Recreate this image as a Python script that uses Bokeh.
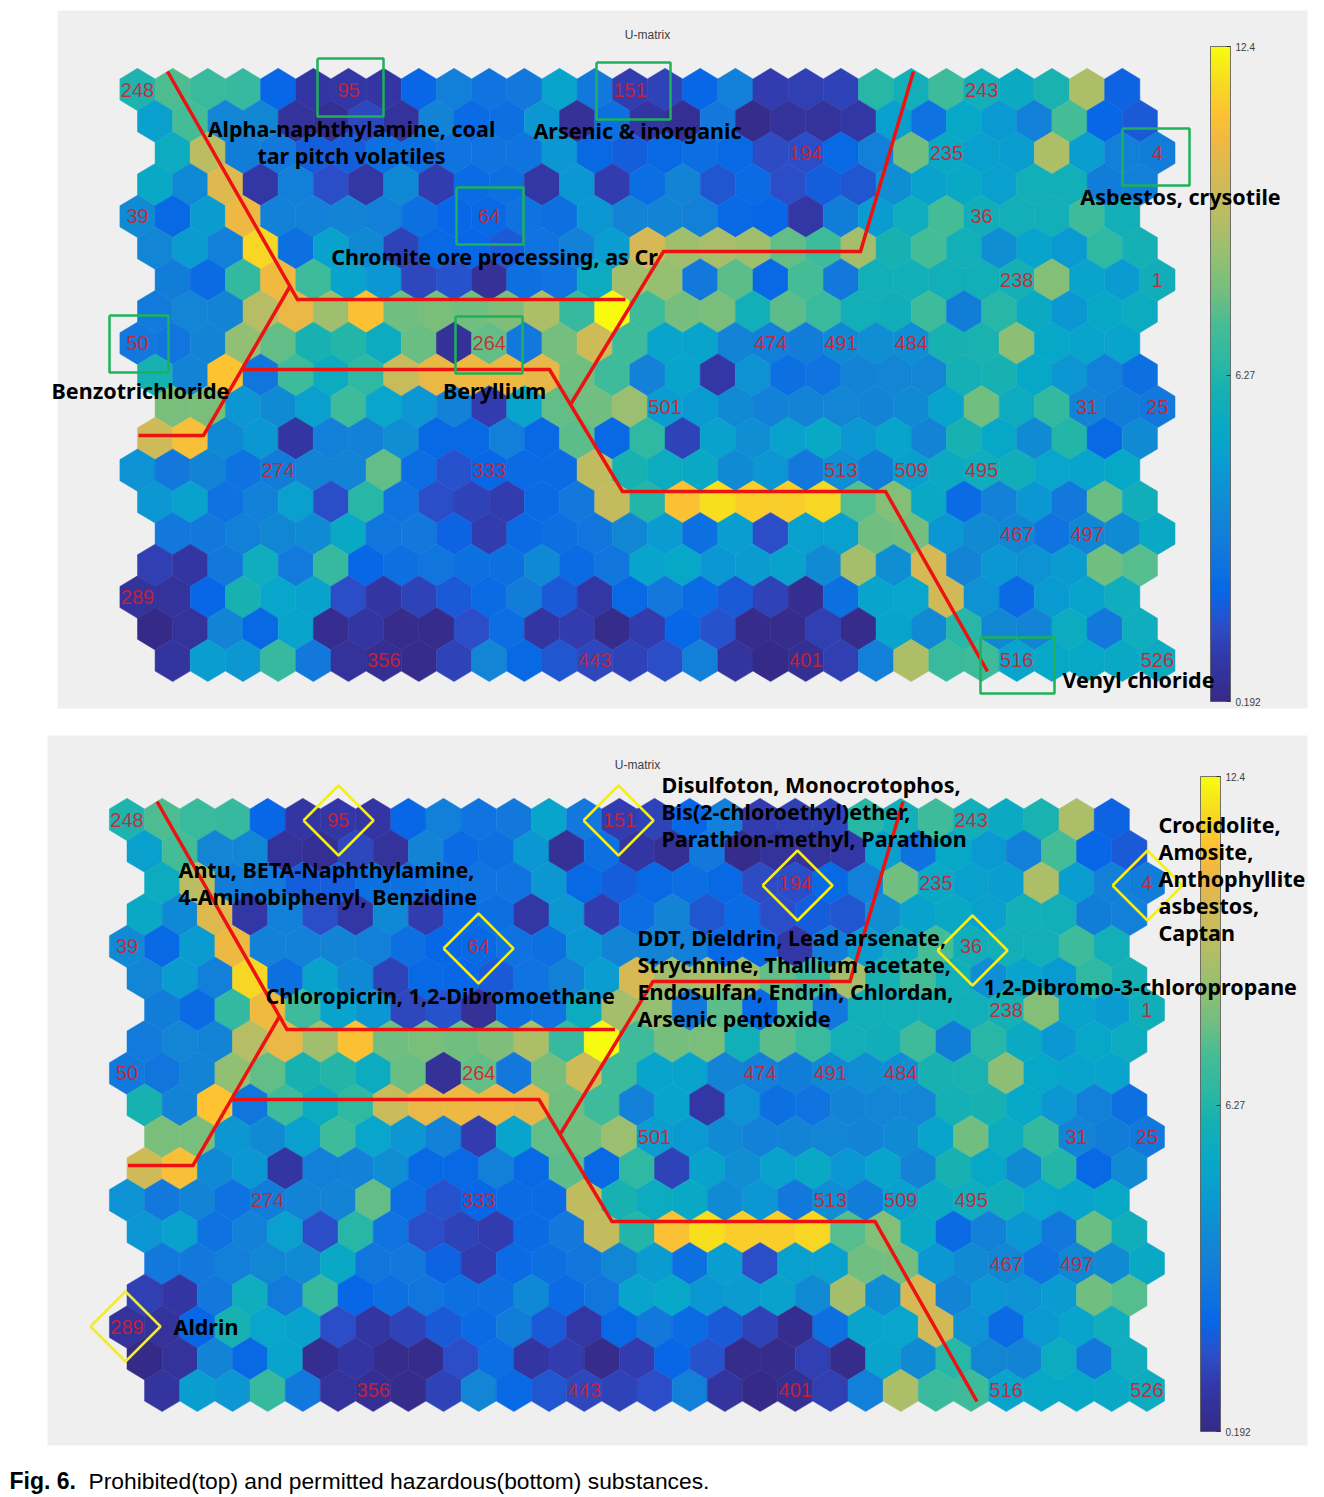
from bokeh.plotting import figure
from bokeh.layouts import column
from bokeh.models import Range1d, LinearColorMapper, ColorBar, FixedTicker, ColumnDataSource
from bokeh.core.properties import value
from bokeh.embed import file_html
from bokeh.resources import INLINE

# U-matrix values, one list per hexagon row
row_00 = [6.2,7.3,6.9,6.8,2.2,0.9,1.0,0.9,2.2,3.3,2.8,3.0,5.0,3.0,1.1,1.3,2.2,3.3,1.1,1.2,1.3,6.4,5.8,7.0,5.8,5.4,6.1,9.0,2.1]
row_01 = [4.8,7.2,3.6,3.7,0.7,0.5,1.4,0.7,3.5,2.4,2.6,4.4,0.6,2.6,0.9,0.5,3.0,0.3,0.7,0.7,1.0,4.8,2.7,5.2,4.5,3.3,7.2,2.2,1.9]
row_02 = [5.5,9.3,3.2,3.0,2.0,2.0,2.6,2.6,2.8,2.8,2.8,4.3,2.3,2.0,2.3,2.5,2.3,1.5,1.6,2.3,3.3,7.8,5.3,4.8,4.7,9.0,4.7,3.3,3.2]
row_03 = [5.3,3.8,10.2,1.0,3.3,1.6,1.0,3.8,1.1,2.4,2.6,1.0,4.3,1.1,2.5,3.5,1.8,2.4,1.6,2.0,1.8,4.0,4.9,5.3,4.8,5.8,5.8,3.2,3.3]
row_04 = [3.9,2.3,4.6,10.6,3.4,3.4,3.5,3.3,2.6,2.2,2.3,2.7,2.6,4.4,3.5,3.5,3.3,2.3,2.2,1.0,3.2,4.6,5.6,7.2,5.7,5.8,5.8,7.0,5.8]
row_05 = [3.6,4.6,3.3,11.6,2.6,4.9,3.8,1.3,2.3,2.2,1.9,2.8,3.4,4.7,10.0,8.7,8.9,8.7,7.6,7.0,8.8,6.0,7.2,5.8,4.0,5.0,4.5,6.6,5.9]
row_06 = [3.2,2.4,6.7,10.7,7.0,5.0,4.4,1.4,1.7,0.6,2.6,2.8,5.5,8.8,8.5,3.0,7.5,2.3,7.2,3.0,5.8,5.8,5.8,5.8,5.9,8.2,5.0,4.6,5.7]
row_07 = [3.1,3.6,3.5,9.2,10.5,8.7,11.1,7.8,8.0,7.8,8.1,9.0,6.8,12.4,7.0,7.9,8.0,5.8,7.5,6.9,5.8,5.7,7.0,3.2,6.4,5.4,4.4,5.2,5.5]
row_08 = [3.0,2.9,3.5,8.4,7.6,6.0,6.3,5.5,7.7,0.6,7.6,3.0,7.9,9.8,7.0,5.0,5.0,3.5,3.3,3.2,3.8,4.0,4.0,6.0,6.1,8.3,5.2,5.0,5.0]
row_09 = [6.0,3.5,11.2,2.9,7.0,5.5,6.6,9.6,10.5,10.6,10.6,10.4,7.8,7.0,3.4,5.0,1.0,4.2,2.6,2.8,3.5,3.6,3.6,5.9,6.0,5.2,4.3,3.3,2.6]
row_10 = [8.0,8.0,4.3,3.9,4.8,7.0,5.1,4.3,3.4,1.1,5.0,7.6,7.8,8.6,4.7,4.5,3.9,3.4,3.5,3.6,3.5,3.9,5.0,7.8,5.5,6.7,3.5,3.2,3.0]
row_11 = [9.8,11.0,3.8,4.4,0.9,3.3,3.4,4.0,2.3,2.3,3.3,2.3,7.5,2.3,6.6,1.3,4.9,4.0,4.9,5.3,4.4,5.0,3.5,6.0,5.2,3.9,6.3,2.3,3.9]
row_12 = [4.2,3.0,3.5,2.7,3.2,3.5,3.5,7.6,2.5,1.7,2.2,2.4,2.4,9.4,6.0,5.5,5.3,3.9,4.3,3.0,4.0,3.2,4.8,5.4,5.6,5.7,5.1,5.0,5.2]
row_13 = [4.3,4.9,2.7,3.4,4.8,1.6,6.4,2.8,1.6,1.3,1.1,2.4,3.0,9.5,6.3,11.1,11.8,11.4,11.4,11.6,7.4,8.2,5.3,2.4,3.4,4.4,3.0,7.7,5.7]
row_14 = [3.0,3.0,3.3,3.7,3.9,5.3,2.9,3.0,2.1,1.1,2.4,2.6,2.9,3.7,4.6,2.6,4.7,1.6,4.8,4.8,7.8,7.9,4.4,3.9,3.7,2.8,3.7,3.9,5.3]
row_15 = [1.2,0.9,3.0,5.6,3.1,6.8,2.2,2.6,2.9,2.6,2.6,3.8,2.4,2.9,5.0,5.2,4.4,4.6,4.9,3.9,8.8,4.0,10.0,3.5,4.4,4.2,4.6,7.8,7.4]
row_16 = [0.7,0.7,2.2,6.0,5.1,4.9,1.6,0.9,1.3,1.9,2.4,3.2,1.9,1.0,2.3,3.0,2.4,1.9,1.3,0.4,2.6,5.0,5.1,9.9,4.2,2.4,4.5,5.0,5.6]
row_17 = [0.2,0.7,3.5,2.3,5.0,0.4,0.9,0.3,0.3,1.6,2.5,0.9,1.1,0.3,1.1,2.2,1.7,0.3,0.3,1.2,0.3,5.0,3.9,6.4,3.7,3.5,5.5,3.0,5.6]
row_18 = [0.8,4.7,4.3,6.8,3.0,0.7,0.5,0.3,1.3,3.6,2.3,1.8,1.4,1.3,1.6,3.3,0.8,0.2,0.5,1.2,3.3,9.0,6.9,7.0,5.0,5.2,5.2,5.3,5.5]
rows = [row_00,row_01,row_02,row_03,row_04,row_05,row_06,row_07,row_08,row_09,
        row_10,row_11,row_12,row_13,row_14,row_15,row_16,row_17,row_18]

# Node labels (number, column, row)
node_names = ["248","95","151","243","194","235","4","39","64","36","238","1","50","264","474","491","484",
              "501","31","25","274","333","513","509","495","467","497","289","356","443","401","516","526"]
node_cols = [0,6,14,24,19,23,29,0,10,24,25,29,0,10,18,20,22,15,27,29,4,10,20,22,24,25,27,0,7,13,19,25,29]
node_rows = [0,0,0,0,2,2,2,4,4,4,6,6,8,8,8,8,8,10,10,10,12,12,12,12,12,14,14,16,18,18,18,18,18]

top_labels = ["Alpha-naphthylamine, coal","tar pitch volatiles","Arsenic & inorganic","Chromite ore processing, as Cr",
              "Asbestos, crysotile","Benzotrichloride","Beryllium","Venyl chloride"]
top_label_x = [351,351,637,494,1180,140,494,1138]
top_label_y = [128,155,130,256,196,390,390,679]
bot_labels = ["Disulfoton, Monocrotophos,","Bis(2-chloroethyl)ether,","Parathion-methyl, Parathion",
              "Antu, BETA-Naphthylamine,","4-Aminobiphenyl, Benzidine",
              "Crocidolite,","Amosite,","Anthophyllite","asbestos,","Captan",
              "DDT, Dieldrin, Lead arsenate,","Strychnine, Thallium acetate,","Endosulfan, Endrin, Chlordan,","Arsenic pentoxide",
              "Chloropicrin, 1,2-Dibromoethane","1,2-Dibromo-3-chloropropane","Aldrin"]
bot_label_x = [661,661,661,178,178,1158,1158,1158,1158,1158,637,637,637,637,265,983,173]
bot_label_y = [784,811,838,869,896,824,851,878,905,932,937,964,991,1018,995,986,1326]

green_boxes = [(317,383,58,116),(596,670,62,119),(456,523,187,244),(1122,1189,128,185),
               (109,168,315,372),(455,522,316,373),(980,1054,637,693)]
yellow_diamonds = [(338,820),(618,820),(797,885),(478,948),(972,950),(1147,885),(125,1326)]

red_lines = [
    ([167,297,625],[71,299,299]),
    ([290,203,138],[285,435,435]),
    ([570,663,860,913],[404,251,251,71]),
    ([241,549,622,885,987],[369,369,491,491,671]),
]

# parula-like colour scale as seen on the bar
stops = [(0.192,"#352a87"),(1.0,"#3338a8"),(1.6,"#2b4fc9"),(2.2,"#0767e6"),(3.0,"#1279dc"),(3.6,"#1285d4"),
         (4.5,"#0a9ad2"),(5.2,"#07a8c8"),(6.0,"#17b1b2"),(6.6,"#2fb8a2"),(7.2,"#45bc96"),(7.8,"#70be80"),
         (8.5,"#95bf72"),(9.2,"#b6bd64"),(10.0,"#d6b955"),(10.6,"#edb844"),(11.2,"#fdc332"),(11.7,"#f6d922"),(12.4,"#f9fb0e")]
def build_palette(n=256):
    out = []
    lo, hi = stops[0][0], stops[-1][0]
    for i in range(n):
        u = lo + (hi-lo)*i/(n-1)
        for (a,ca),(b,cb) in zip(stops, stops[1:]):
            if u <= b:
                t = (u-a)/(b-a)
                rgb = [round(int(ca[q:q+2],16)*(1-t)+int(cb[q:q+2],16)*t) for q in (1,3,5)]
                out.append("#%02x%02x%02x" % tuple(rgb))
                break
    return out
mapper = LinearColorMapper(palette=build_palette(), low=0.192, high=12.4)

STEP_X, STEP_Y = 35.17, 31.72
BOLD = value("Noto Sans")
SHIFTS = [0, 0.5, 1, 0.5]
R = 2/3
FIG_W = 1310

def panel(left, right, top, bottom, x0, y0, fig_top, fig_h, title_x, title_y, bar_x, bar_top, dx, dy):
    """Gray panel spans picture pixels left..right, top..bottom; hex (0,0) sits at picture pixel x0,y0."""
    X = lambda px: (px-x0)/STEP_X
    Y = lambda py: (py-y0)/STEP_Y
    p = figure(width=FIG_W, height=fig_h, output_backend="svg", toolbar_location=None,
               x_range=Range1d(X(0),X(FIG_W)), y_range=Range1d(Y(fig_top+fig_h),Y(fig_top)),
               x_axis_location=None, y_axis_location=None,
               min_border_left=0, min_border_right=0, min_border_top=0, min_border_bottom=0)
    p.grid.visible = False
    p.outline_line_color = None
    p.background_fill_color = "white"
    p.border_fill_color = "white"
    p.quad(left=[X(left)], right=[X(right)], top=[Y(top)], bottom=[Y(bottom)], fill_color="#efefef", line_color=None)
    xs, ys, us = [], [], []
    for r, vals in enumerate(rows):
        for j, u in enumerate(vals):
            cx = SHIFTS[r % 4] + j
            xs.append([cx, cx+0.5, cx+0.5, cx, cx-0.5, cx-0.5])
            ys.append([r-R, r-R/2, r+R/2, r+R, r+R/2, r-R/2])
            us.append(u)
    src = ColumnDataSource(dict(xs=xs, ys=ys, u=us))
    cmap = {"field":"u","transform":mapper}
    p.patches("xs","ys",source=src,fill_color=cmap,line_color=cmap,line_width=0.5)

    p.text(node_cols, node_rows, text=node_names, text_color="#d41f2e", text_alpha=0.9,
           text_font=value("Liberation Sans"), text_font_size="20px", text_align="center", text_baseline="middle")
    for lx, ly in red_lines:
        p.line([X(v+dx) for v in lx],[Y(v+dy) for v in ly], line_color="#ee1111", line_width=3.5, line_join="miter")
    p.text([X(title_x)],[Y(title_y)],text=["U-matrix"],text_color="#404040",text_font=value("Liberation Sans"),
           text_font_size="12px",text_align="center",text_baseline="middle")
    bar = ColorBar(color_mapper=mapper, width=20, height=655, location=(bar_x, fig_top+fig_h-bar_top-655),
                   padding=0, margin=0, background_fill_alpha=0, border_line_color=None,
                   ticker=FixedTicker(ticks=[0.192,6.27,12.4]),
                   major_label_overrides={0.192:"0.192",6.27:"6.27",12.4:"12.4"},
                   major_label_text_font="Liberation Sans",
                   major_label_text_font_size="10px", major_label_text_color="#404040",
                   major_tick_line_color="#333333", major_tick_in=4, major_tick_out=0,
                   bar_line_color="#555555", bar_line_alpha=0.8, label_standoff=5)
    p.add_layout(bar)
    return p, X, Y

p1, X1, Y1 = panel(57,1307,10,708,137,89,0,710,647,34,1210,46,0,0)
for (a,b,c,d) in green_boxes:
    p1.line([X1(a),X1(b),X1(b),X1(a),X1(a)],[Y1(c),Y1(c),Y1(d),Y1(d),Y1(c)],line_color="#1db25a",line_width=2.5)
p1.text([X1(v) for v in top_label_x],[Y1(v) for v in top_label_y],text=top_labels,text_color="black",
        text_font=BOLD,text_font_style="bold",text_font_size="21.5px",text_align="center",text_baseline="middle",level="overlay")

p2, X2, Y2 = panel(47,1307,735,1445,126.5,819,710,737,637,764,1200,776,-10.5,730)
for (cx,cy) in yellow_diamonds:
    p2.line([X2(cx-35),X2(cx),X2(cx+35),X2(cx),X2(cx-35)],[Y2(cy),Y2(cy-35),Y2(cy),Y2(cy+35),Y2(cy)],
            line_color="#f2ee22",line_width=2.5)
p2.text([X2(v) for v in bot_label_x],[Y2(v) for v in bot_label_y],text=bot_labels,text_color="black",
        text_font=BOLD,text_font_style="bold",text_font_size="21.5px",text_align="left",text_baseline="middle",level="overlay")

p3 = figure(width=FIG_W, height=48, output_backend="svg", toolbar_location=None,
            x_range=Range1d(0,FIG_W), y_range=Range1d(1495,1447),
            x_axis_location=None, y_axis_location=None,
            min_border_left=0,min_border_right=0,min_border_top=0,min_border_bottom=0)
p3.grid.visible = False
p3.outline_line_color = None
p3.text([9],[1480],text=["Fig. 6."],text_color="black",text_font=value("Liberation Sans"),text_font_style="bold",
        text_font_size="23px",text_align="left",text_baseline="middle")
p3.text([88],[1480],text=["Prohibited(top) and permitted hazardous(bottom) substances."],text_color="black",
        text_font=value("Liberation Sans"),text_font_size="22.8px",text_align="left",text_baseline="middle")

layout = column(p1,p2,p3,spacing=0)
open("out.html","w").write(file_html(layout, INLINE))
